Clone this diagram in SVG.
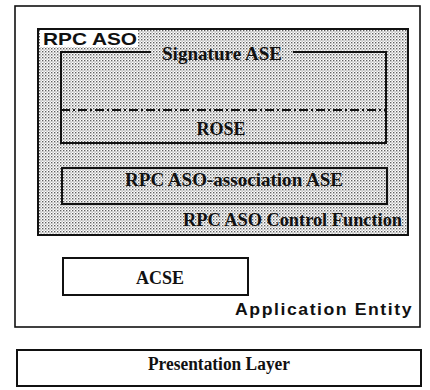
<svg xmlns="http://www.w3.org/2000/svg" width="430" height="390" viewBox="0 0 430 390">
<defs>
<pattern id="dots" width="3" height="3" patternUnits="userSpaceOnUse">
<rect width="3" height="3" fill="#ffffff"/>
<rect x="0" y="0" width="1.4" height="1.4" fill="#606060"/>
<rect x="1.5" y="1.5" width="1.2" height="1.2" fill="#959595"/>
</pattern>
<style>
.box{fill:none;stroke:#111;stroke-width:2}
.thin{fill:none;stroke:#111;stroke-width:1.6}
.serif{font-family:"Liberation Serif","Times New Roman",serif;font-weight:bold;font-size:18px;fill:#111}
.sans{font-family:"Liberation Sans",Arial,sans-serif;font-weight:bold;font-size:17px;fill:#111}
</style>
</defs>
<g id="application-entity">
<rect class="thin" x="15" y="6" width="405" height="321"/>
<text class="sans" x="235" y="315" font-size="18" textLength="178" lengthAdjust="spacingAndGlyphs" letter-spacing="1.5">Application Entity</text>
</g>
<g id="rpc-aso">
<rect x="38" y="29" width="370" height="206" fill="url(#dots)" stroke="#111" stroke-width="2"/>
<rect x="40" y="30" width="98" height="17" fill="#ffffff"/>
<text class="sans" x="43" y="45" font-size="18" textLength="94" lengthAdjust="spacingAndGlyphs">RPC ASO</text>
<text class="serif" x="402" y="226" text-anchor="end" textLength="219" lengthAdjust="spacingAndGlyphs">RPC ASO Control Function</text>
</g>
<g id="signature-ase">
<path class="box" d="M151 52 H61 V143 H386 V52 H293"/>
<text class="serif" x="162" y="60" textLength="120" lengthAdjust="spacingAndGlyphs">Signature ASE</text>
</g>
<g id="rose">
<line x1="61" y1="110" x2="386" y2="110" stroke="#111" stroke-width="2" stroke-dasharray="9 3 2 3"/>
<text class="serif" x="221" y="135" text-anchor="middle">ROSE</text>
</g>
<g id="association-ase">
<rect class="box" x="62" y="168" width="325" height="36"/>
<text class="serif" x="234" y="186" text-anchor="middle" textLength="218" lengthAdjust="spacingAndGlyphs">RPC ASO-association ASE</text>
</g>
<g id="acse">
<rect x="63" y="258" width="185" height="37" fill="#ffffff" stroke="#111" stroke-width="2"/>
<text class="serif" x="160" y="284" text-anchor="middle">ACSE</text>
</g>
<g id="presentation-layer">
<rect x="17" y="350" width="404" height="36" fill="#ffffff" stroke="#111" stroke-width="2"/>
<text class="serif" x="148" y="370" font-size="17" textLength="142" lengthAdjust="spacingAndGlyphs">Presentation Layer</text>
</g>
<g id="connectors"></g>
</svg>
